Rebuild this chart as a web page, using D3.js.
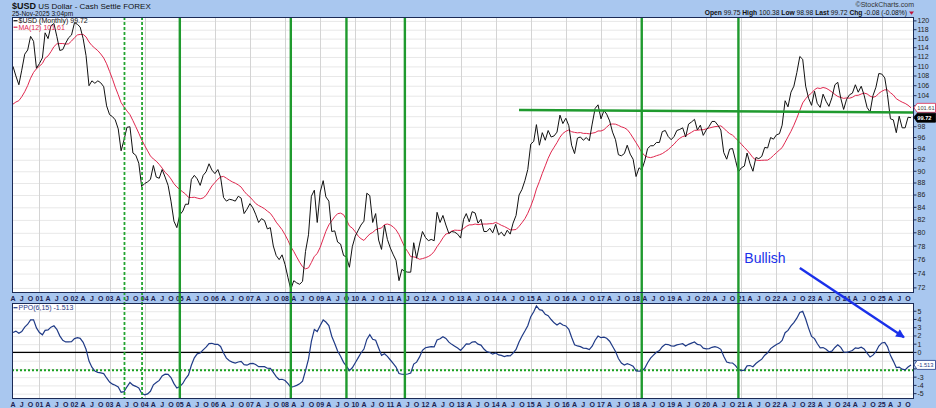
<!DOCTYPE html>
<html><head><meta charset="utf-8">
<script src="https://cdn.jsdelivr.net/npm/d3@7"></script>
<style>
html,body{margin:0;padding:0;background:#a9c7ef;}
svg{display:block;font-family:Arial,"Liberation Sans",sans-serif;}
</style></head><body>
<svg id="c" width="936" height="408"></svg>
<script>
// ---------------- DATA ----------------
const firstMonth = "2000-04"; // first plotted monthly bar
// Jan 1998 – Mar 2000: not drawn, only seeds the MA(12) and PPO(6,15) studies
const preHistory = [
 99.3, 98.9, 100.2, 98.9, 99.7, 101.1, 100.8, 99.5, 94.4, 93.2, 96.2, 94.2,
 96.9, 99.4, 100.8, 101.9, 103.0, 103.0, 100.0, 100.5, 98.5, 98.5, 101.0, 100.5,
 104.0, 105.0, 104.0];
// $USD monthly closes, Apr 2000 – Nov 2025
const usdClose = [
 110.0,108.0,106.2,109.2,112.6,113.5,116.5,115.4,109.6,
 110.6,111.8,117.3,116.0,118.9,119.4,116.5,113.4,113.6,115.0,116.2,116.8,
 119.6,119.2,118.6,116.0,112.3,106.0,107.0,106.5,107.0,106.6,105.8,102.0,
 100.3,99.9,99.3,97.6,93.6,95.6,97.9,98.0,93.2,92.8,91.4,87.4,
 87.9,88.2,88.6,91.0,89.0,88.8,90.3,89.0,87.6,85.0,81.8,80.8,
 82.8,83.4,84.5,84.5,88.6,89.3,88.7,87.6,89.3,89.9,91.3,90.2,
 89.6,90.3,89.0,85.6,85.0,85.3,85.2,85.0,85.8,85.5,83.0,83.7,
 84.6,83.9,82.9,81.6,82.2,81.9,80.6,80.8,78.0,76.6,76.0,76.7,
 75.3,73.4,71.8,73.0,72.7,72.5,72.9,77.2,79.7,85.8,86.8,81.6,
 86.5,88.4,85.7,85.0,80.2,80.3,78.6,78.3,76.6,76.4,74.9,77.9,
 79.5,80.4,81.2,81.8,86.3,85.9,81.6,83.0,78.9,77.5,81.2,79.0,
 77.7,76.7,75.9,73.0,74.6,74.3,74.2,74.2,78.5,76.2,78.3,80.2,
 79.3,78.8,79.0,78.8,83.2,81.6,82.7,81.2,79.9,80.2,80.1,79.8,
 79.2,82.1,83.0,81.7,83.3,83.1,81.5,82.1,80.2,80.2,80.7,80.0,
 81.3,79.7,80.1,79.5,80.4,79.8,81.5,82.7,86.0,86.9,88.4,90.3,
 94.8,95.3,98.4,94.6,96.9,95.5,97.3,96.1,96.3,97.0,100.2,98.6,
 99.6,98.2,94.6,93.1,95.9,96.1,95.5,96.0,95.4,98.5,101.5,102.2,
 99.5,101.1,100.4,99.1,97.0,95.6,92.9,92.7,93.1,94.6,93.0,92.1,
 89.1,90.6,90.2,91.8,94.0,94.5,94.5,95.1,95.1,97.1,97.3,96.2,
 95.6,96.2,97.3,97.5,97.8,96.1,98.5,98.9,99.4,97.4,98.3,96.4,
 97.4,98.1,99.0,99.0,98.3,97.4,93.3,92.1,93.9,94.0,91.9,89.9,
 90.6,90.9,93.2,91.3,90.0,92.4,92.2,92.6,94.2,94.1,96.0,95.7,
 96.5,96.7,98.3,103.0,101.8,104.7,105.9,108.7,112.1,111.5,105.9,103.5,
 102.1,104.9,102.5,101.7,104.3,102.9,101.9,103.6,106.2,106.7,103.5,101.3,
 103.3,104.2,104.5,106.2,104.7,105.9,104.1,101.7,100.8,104.0,105.7,108.5,
 108.4,107.6,104.2,99.5,99.3,96.9,100.0,97.8,97.8,99.8,99.72];
const lastClose = "99.72", lastMA = "101.61", lastPPO = "-1.513";
const priceTicks = [72,74,76,78,80,82,84,86,88,90,92,94,96,98,100,102,104,106,108,110,112,114,116,118,120];
const ppoTicks = [-5,-4,-3,-2,-1,0,1,2,3,4,5];
const quarterLetters = {3:"A", 6:"J", 9:"O"};
const signalDates = ["2005-01-01","2008-03-01","2009-10-01","2011-06-01","2018-03-01","2020-12-01"];
const tentativeSignalDates = ["2003-06-05","2003-12-05"];
const resistanceLine = [{date:"2014-09-01", value:101.2},{date:"2025-12-01", value:100.7}];
const ppoSignalLevel = -2.15;
const noteText = "Bullish";
const noteAt = {date:"2021-02-01", price:75.5};
const arrowFrom = {date:"2022-09-01", price:74.8};
const arrowTo = {date:"2025-08-20", ppo:1.85};
const titleSymbol = "$USD", titleName = " US Dollar - Cash Settle  FOREX";
const titleDate = "25-Nov-2025 3:04pm";
const quote = [["Open","99.75"],["High","100.38"],["Low","98.98"],["Last","99.72"],["Chg","-0.08 (-0.08%)"]];

// ---------------- STUDIES ----------------
const all = preHistory.concat(usdClose);
function sma(a,n){return a.map((v,i)=> i<n-1?null:d3.mean(a.slice(i-n+1,i+1)));}
function ema(a,n){const k=2/(n+1);let p;return a.map((v,i)=>{if(i<n-1)return null;if(i===n-1){p=d3.mean(a.slice(0,n));return p;}p=v*k+p*(1-k);return p;});}
const ma12 = sma(all,12).slice(preHistory.length);
const e6 = ema(all,6), e15 = ema(all,15);
const ppo = all.map((v,i)=> (e6[i]-e15[i])/e15[i]*100).slice(preHistory.length);
const dates = usdClose.map((v,i)=> new Date(Date.UTC(2000,3+i,1)));
const series = usdClose.map((v,i)=>({d:dates[i], c:v, ma:ma12[i], ppo:ppo[i]}));

// ---------------- LAYOUT ----------------
const W=936,H=408, L=12, R=914, T1=17, B1=293, T2=303, B2=399;
const BG="#a9c7ef", BORDER="#1b2a55", GREEN="#1f9a2e", BLUE="#1a30ea";
const svg=d3.select("#c");
const pd = s=> d3.utcParse("%Y-%m-%d")(s);
const x = d3.scaleUtc().domain([dates[0], dates[dates.length-1]]).range([13,911]);
const yP = d3.scaleLog().domain([71.3,120.9]).range([B1,T1]);
const yO = d3.scaleLinear().domain([-5.65,6.0]).range([B2,T2]);

svg.append("rect").attr("width",W).attr("height",H).attr("fill",BG);
const defs=svg.append("defs");
[["c1",T1,B1],["c2",T2,B2]].forEach(([id,t,b])=>{
  defs.append("clipPath").attr("id",id).append("rect").attr("x",L).attr("y",t).attr("width",R-L).attr("height",b-t);
  svg.append("rect").attr("x",L).attr("y",t).attr("width",R-L).attr("height",b-t).attr("fill","#fff");
});
defs.append("marker").attr("id","ah").attr("viewBox","0 0 10 10").attr("refX",9).attr("refY",5)
 .attr("markerWidth",4.2).attr("markerHeight",3.6).attr("orient","auto").attr("markerUnits","strokeWidth")
 .append("path").attr("d","M0,0L10,5L0,10Z").attr("fill",BLUE);

const years = d3.utcYear.range(Date.UTC(2001,0,1), Date.UTC(2026,0,1));
const quarters = d3.utcMonth.every(3).range(Date.UTC(2000,3,1), Date.UTC(2025,11,1));

// grids
const g1=svg.append("g").attr("clip-path","url(#c1)");
const g2=svg.append("g").attr("clip-path","url(#c2)");
g1.selectAll("line.h").data(priceTicks).join("line").attr("x1",L).attr("x2",R)
 .attr("y1",d=>yP(d)+0.5).attr("y2",d=>yP(d)+0.5).attr("stroke","#e8e8e8");
g2.selectAll("line.h").data(ppoTicks).join("line").attr("x1",L).attr("x2",R)
 .attr("y1",d=>yO(d)+0.5).attr("y2",d=>yO(d)+0.5).attr("stroke","#e8e8e8");
[[g1,T1,B1],[g2,T2,B2]].forEach(([g,t,b])=>{
  g.selectAll("line.v").data(years).join("line").attr("x1",d=>Math.round(x(d))+0.5).attr("x2",d=>Math.round(x(d))+0.5)
   .attr("y1",t).attr("y2",b).attr("stroke","#d4d4d4");
});

// price + MA
g1.append("path").datum(series).attr("fill","none").attr("stroke","#e0284f").attr("stroke-width",1)
 .attr("d",d3.line().x(d=>x(d.d)).y(d=>yP(d.ma)));
g1.append("path").datum(series).attr("fill","none").attr("stroke","#111").attr("stroke-width",1)
 .attr("d",d3.line().x(d=>x(d.d)).y(d=>yP(d.c)));
// resistance
g1.append("line").attr("x1",x(pd(resistanceLine[0].date))).attr("y1",yP(resistanceLine[0].value))
 .attr("x2",x(pd(resistanceLine[1].date))).attr("y2",yP(resistanceLine[1].value))
 .attr("stroke",GREEN).attr("stroke-width",2.6);

// PPO
g2.append("line").attr("x1",L).attr("x2",R).attr("y1",yO(0)).attr("y2",yO(0)).attr("stroke","#000").attr("stroke-width",1.3);
g2.append("line").attr("x1",L).attr("x2",R).attr("y1",yO(ppoSignalLevel)).attr("y2",yO(ppoSignalLevel))
 .attr("stroke","#1aa01f").attr("stroke-width",2).attr("stroke-dasharray","2,2");
g2.append("path").datum(series).attr("fill","none").attr("stroke","#1f3a86").attr("stroke-width",1.2)
 .attr("d",d3.line().x(d=>x(d.d)).y(d=>yO(d.ppo)));

// date strips
function dateLabels(baseY){
  svg.append("g").selectAll("text").data(quarters).join("text")
   .attr("x",d=>x(d)).attr("y",baseY).attr("text-anchor","middle")
   .attr("font-size",7).attr("font-weight","bold").attr("fill","#1c2250")
   .text(d=> d.getUTCMonth()===0 ? d3.utcFormat("%y")(d) : quarterLetters[d.getUTCMonth()]);
}
dateLabels(301);
dateLabels(406.5);

// green vertical signal lines
svg.append("g").selectAll("line").data(signalDates).join("line")
 .attr("x1",d=>x(pd(d))).attr("x2",d=>x(pd(d))).attr("y1",T1).attr("y2",B2)
 .attr("stroke",GREEN).attr("stroke-width",2.4);
svg.append("g").selectAll("line").data(tentativeSignalDates).join("line")
 .attr("x1",d=>x(pd(d))).attr("x2",d=>x(pd(d))).attr("y1",T1).attr("y2",B2)
 .attr("stroke","#22a52f").attr("stroke-width",1.8).attr("stroke-dasharray","3,2");

// borders
[[T1,B1],[T2,B2]].forEach(([t,b])=> svg.append("rect").attr("x",L+0.5).attr("y",t+0.5)
 .attr("width",R-L-1).attr("height",b-t-1).attr("fill","none").attr("stroke",BORDER));

// right axes
const boxP = [yP(+lastMA), yP(+lastClose)], boxO=[yO(+lastPPO)];
function rightAxis(ticks, y, boxes){
  const g=svg.append("g");
  ticks.forEach(t=>{
    const yy=y(t);
    g.append("line").attr("x1",R).attr("x2",R+2.5).attr("y1",yy).attr("y2",yy).attr("stroke",BORDER);
    if(boxes.some(b=>Math.abs(b-yy)<7)) return;
    g.append("text").attr("x",R+3.5).attr("y",yy).attr("dy","0.35em").attr("font-size",7).attr("fill","#222").text(t);
  });
}
rightAxis(priceTicks,yP,boxP);
rightAxis(ppoTicks,yO,boxO);
function valueBox(yy, txt, fill, stroke, tcol, bold){
  const h=4.5;
  svg.append("path").attr("d",`M${R},${yy}L${R+3.2},${yy-h}L${W-0.5},${yy-h}L${W-0.5},${yy+h}L${R+3.2},${yy+h}Z`)
   .attr("fill",fill).attr("stroke",stroke).attr("stroke-width",0.8);
  svg.append("text").attr("x",R+3.3).attr("y",yy).attr("dy","0.35em").attr("font-size",5.7)
   .attr("font-weight",bold?"bold":"normal").attr("fill",tcol).text(txt);
}
valueBox(boxP[0], lastMA, "#fff", "#e0284f", "#444", false);
valueBox(boxP[1], lastClose, "#000", "#000", "#fff", true);
valueBox(boxO[0], lastPPO, "#fff", "#1f3a86", "#1f3a86", false);

// legends
function legend(yy, txt, col){
  svg.append("line").attr("x1",13.5).attr("x2",17.5).attr("y1",yy-2.3).attr("y2",yy-2.3).attr("stroke",col).attr("stroke-width",1.2);
  svg.append("text").attr("x",18.5).attr("y",yy).attr("font-size",7).attr("fill",col).text(txt);
}
legend(23, "$USD (Monthly) "+lastClose, "#111");
legend(29.5, "MA(12) "+lastMA, "#e0284f");
legend(310, "PPO(6,15) "+lastPPO, "#1f3a86");

// header
const t1=svg.append("text").attr("x",12).attr("y",9).attr("fill","#111");
t1.append("tspan").attr("font-size",9).attr("font-weight","bold").text(titleSymbol);
t1.append("tspan").attr("font-size",8).text(titleName);
svg.append("text").attr("x",12).attr("y",15.5).attr("font-size",6.5).attr("fill","#111").text(titleDate);
svg.append("text").attr("x",914).attr("y",7.3).attr("text-anchor","end").attr("font-size",7).attr("fill","#333").text("\u00A9StockCharts.com");
const q=svg.append("text").attr("x",907).attr("y",15.3).attr("text-anchor","end").attr("font-size",6.7).attr("fill","#111");
quote.forEach(([k,v],i)=>{
  q.append("tspan").attr("font-weight","bold").text((i?"  ":"")+k+" ");
  q.append("tspan").text(v);
});
svg.append("path").attr("d","M909,11.5L914,11.5L911.5,14.8Z").attr("fill","#c0143c");

// annotation
svg.append("text").attr("x",x(pd(noteAt.date))).attr("y",yP(noteAt.price)).attr("font-size",14).attr("fill",BLUE).text(noteText);
svg.append("line").attr("x1",x(pd(arrowFrom.date))).attr("y1",yP(arrowFrom.price))
 .attr("x2",x(pd(arrowTo.date))).attr("y2",yO(arrowTo.ppo))
 .attr("stroke",BLUE).attr("stroke-width",2.4).attr("marker-end","url(#ah)");
</script>
</body></html>
